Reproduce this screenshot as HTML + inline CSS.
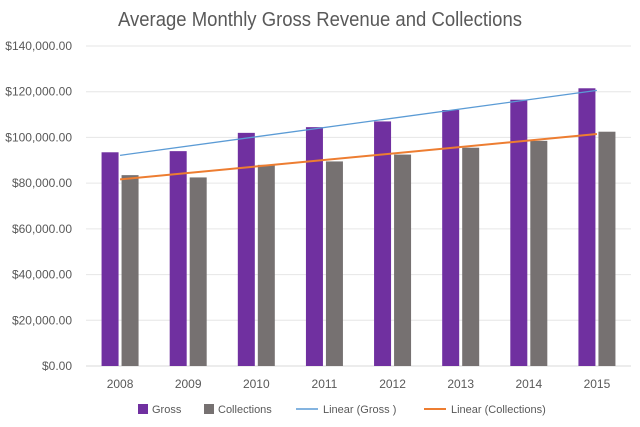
<!DOCTYPE html>
<html><head><meta charset="utf-8"><style>
html,body{margin:0;padding:0;background:#fff;}
svg{display:block;font-family:"Liberation Sans",Arial,sans-serif;}
</style></head><body>
<svg id="chart" width="640" height="427" viewBox="0 0 640 427">
<text x="320" y="26" text-anchor="middle" font-size="20" textLength="404" lengthAdjust="spacingAndGlyphs" fill="#595959">Average Monthly Gross Revenue and Collections</text>
<g id="grid"></g><g id="bars"></g><g id="trends"></g><g id="labels"></g>
<g font-size="11" fill="#595959">
<rect x="138" y="404" width="10" height="10" fill="#7030a0"/>
<text x="152" y="413">Gross</text>
<rect x="204" y="404" width="10" height="10" fill="#767171"/>
<text x="218" y="413">Collections</text>
<line x1="296" y1="409" x2="318" y2="409" stroke="#5b9bd5" stroke-width="1.5"/>
<text x="323" y="413">Linear (Gross )</text>
<line x1="424" y1="409" x2="446" y2="409" stroke="#ed7d31" stroke-width="2"/>
<text x="451" y="413">Linear (Collections)</text>
</g>
</svg>
<script>
const categories=["2008","2009","2010","2011","2012","2013","2014","2015"];
const gross=[93500,94000,102000,104500,107000,112000,116500,121500];
const collections=[83500,82500,88000,89500,92500,95500,98500,102500];
const yTicks=[0,20000,40000,60000,80000,100000,120000,140000];
const NS="http://www.w3.org/2000/svg";
const y0=366,yTop=46,yMax=140000,x0=86,x1=631;
const step=(x1-x0)/categories.length;
function yScale(v){return y0-(v/yMax)*(y0-yTop);}
function xCenter(i){return x0+step*(i+0.5);}
function mk(tag,attrs,parent){const e=document.createElementNS(NS,tag);for(const k in attrs)e.setAttribute(k,attrs[k]);parent.appendChild(e);return e;}
const grid=document.getElementById('grid'),bars=document.getElementById('bars'),trends=document.getElementById('trends'),labels=document.getElementById('labels');
yTicks.forEach(t=>{
 const y=yScale(t);
 const l=mk('line',{x1:x0,x2:x1,y1:y,y2:y,stroke:t===0?'#d9d9d9':'#e6e6e6','stroke-width':1},grid);
 
 
 const tx=mk('text',{x:72,y:y+4,'text-anchor':'end','font-size':12,fill:'#595959'},labels);
 tx.textContent='$'+t.toLocaleString('en-US',{minimumFractionDigits:2});
 
 
});
const bw=17,gap=3;
categories.forEach((c,i)=>{
 const cx=xCenter(i);
 const g=mk('rect',{x:cx-gap/2-bw,y:yScale(gross[i]),width:bw,height:y0-yScale(gross[i]),fill:'#7030a0'},bars);
 
 
 const b=mk('rect',{x:cx+gap/2,y:yScale(collections[i]),width:bw,height:y0-yScale(collections[i]),fill:'#767171'},bars);
 
 
 const t=mk('text',{x:cx,y:388,'text-anchor':'middle','font-size':12,fill:'#595959'},labels);
 t.textContent=c;
 
 
});
function fit(arr){const n=arr.length;let sx=0,sy=0,sxy=0,sxx=0;arr.forEach((v,i)=>{sx+=i;sy+=v;sxy+=i*v;sxx+=i*i;});const m=(n*sxy-sx*sy)/(n*sxx-sx*sx);return [m,(sy-m*sx)/n];}
[[gross,'#5b9bd5',1.3,'trendline-gross'],[collections,'#ed7d31',2,'trendline-collections']].forEach(([arr,col,w,name])=>{
 const [m,b]=fit(arr);const n=arr.length-1;
 const l=mk('line',{x1:xCenter(0),y1:yScale(b),x2:xCenter(n),y2:yScale(b+m*n),stroke:col,'stroke-width':w},trends);
 
 
});
</script>
</body></html>
